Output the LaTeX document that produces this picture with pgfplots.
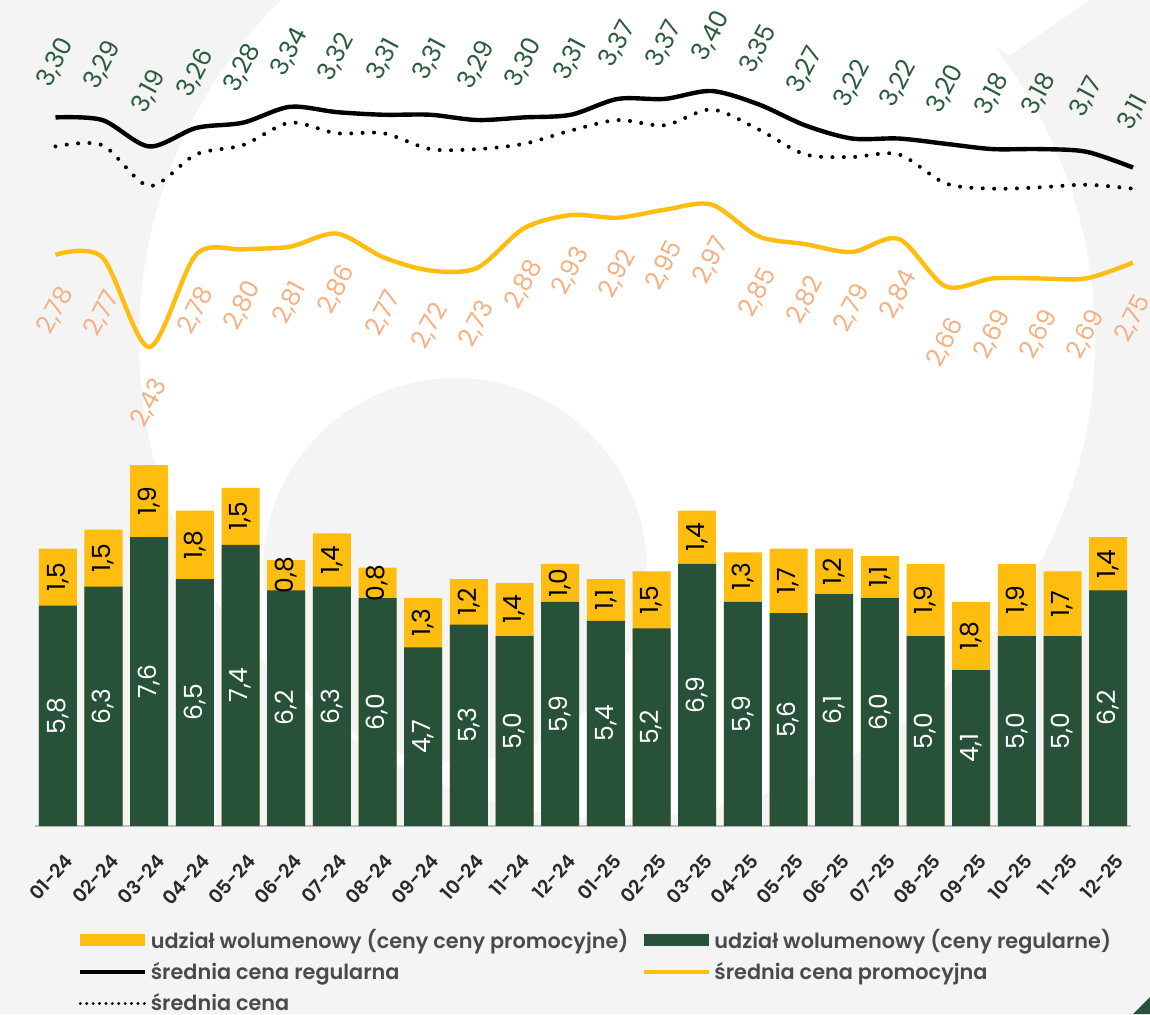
\documentclass[border=0pt]{standalone}
\usepackage{pgfplots}
\pgfplotsset{compat=1.18}
\usepackage{pgfplotstable}
\usepackage{fontspec}
\setmainfont{Poppins}[BoldFont={Poppins SemiBold}]
\definecolor{bggray}{HTML}{F4F4F4}
\definecolor{barg}{HTML}{28513A}
\definecolor{bary}{HTML}{FFBD0F}
\definecolor{lblg}{HTML}{2B5C3C}
\definecolor{lblo}{HTML}{F4B183}
\definecolor{txt}{HTML}{2A2A2A}
\pgfkeys{/pgf/number format/assume math mode=true}
\pgfplotstableread{
x reg promo preg ppromo pavg
0 5.8 1.5 3.30 2.78 3.19
1 6.3 1.5 3.29 2.77 3.195
2 7.6 1.9 3.19 2.43 3.04
3 6.5 1.8 3.26 2.78 3.16
4 7.4 1.5 3.28 2.80 3.195
5 6.2 0.8 3.34 2.81 3.28
6 6.3 1.4 3.32 2.86 3.24
7 6.0 0.8 3.31 2.77 3.24
8 4.7 1.3 3.31 2.72 3.18
9 5.3 1.2 3.29 2.73 3.18
10 5.0 1.4 3.30 2.88 3.20
11 5.9 1.0 3.31 2.93 3.25
12 5.4 1.1 3.37 2.92 3.29
13 5.2 1.5 3.37 2.95 3.27
14 6.9 1.4 3.40 2.97 3.33
15 5.9 1.3 3.35 2.85 3.255
16 5.6 1.7 3.27 2.82 3.16
17 6.1 1.2 3.22 2.79 3.15
18 6.0 1.1 3.22 2.84 3.16
19 5.0 1.9 3.20 2.66 3.05
20 4.1 1.8 3.18 2.69 3.03
21 5.0 1.9 3.18 2.69 3.035
22 5.0 1.7 3.17 2.69 3.045
23 6.2 1.4 3.11 2.75 3.03
}\data
\pgfplotsset{
  legpatch/.style={legend image code/.code={\fill[##1] (0pt,-3pt) rectangle (32.5pt,3pt);}},
  legline/.style={legend image code/.code={\draw[##1] (0pt,0pt) -- (32.5pt,0pt);}},
}
\begin{document}
\begin{tikzpicture}
\path[use as bounding box] (0,0) rectangle (575pt,507pt);
\begin{scope}
\clip (0,0) rectangle (575pt,507pt);
\fill[bggray] (0,0) rectangle (575pt,507pt);
\fill[white, even odd rule] (308.5pt,337pt) circle[radius=239pt] (227.5pt,222pt) circle[radius=96pt];
\fill[white] (505pt,479.5pt) -- (545pt,507pt) -- (450pt,507pt) -- cycle;
\fill[barg] (566.5pt,0pt) -- (575pt,0pt) -- (575pt,8.5pt) -- cycle;
\end{scope}

\begin{axis}[
  at={(17.5pt,94pt)}, anchor=south west, scale only axis,
  width=548pt, height=190pt,
  xmin=-0.5, xmax=23.5, ymin=0, ymax=10,
  axis y line=none, axis x line*=bottom,
  x axis line style={draw=black!25, line width=1pt, -},
  xtick={0,...,23},
  xticklabels={01-24,02-24,03-24,04-24,05-24,06-24,07-24,08-24,09-24,10-24,11-24,12-24,01-25,02-25,03-25,04-25,05-25,06-25,07-25,08-25,09-25,10-25,11-25,12-25},
  major tick length=0pt, xtick style={draw=none},
  xticklabel style={xshift=3pt, yshift=-13pt, rotate=48, anchor=north east, inner sep=0pt, font=\fontsize{9.5}{11}\selectfont\bfseries, text=txt},
  clip=false,
  legend columns=2,
  legend cell align=left,
  legend style={at={(0.0392,-0.268)}, anchor=north west, draw=none, fill=none,
    inner sep=0pt, font=\fontsize{10.4}{12}\selectfont\bfseries, text=txt!85,
    nodes={inner xsep=1.75pt, inner ysep=0.5pt},
    /tikz/every even column/.append style={column sep=5pt},
    row sep=4.5pt},
]
\addplot[ybar, bar width=19pt, bar shift=0pt, fill=bary, draw=none, forget plot]
  table[x=x, y expr=\thisrow{reg}+\thisrow{promo}] {\data};
\addplot[ybar, bar width=19pt, bar shift=0pt, fill=barg, draw=none, forget plot]
  table[x=x, y=reg] {\data};
\addplot[draw=none, mark=none, forget plot, point meta=explicit,
  nodes near coords={\pgfmathprintnumber[fixed,fixed zerofill,precision=1,use comma]{\pgfplotspointmeta}},
  nodes near coords style={rotate=90, anchor=center, inner sep=0pt, text=white, font=\fontsize{12.5}{14}\selectfont}]
  table[x=x, y expr=\thisrow{reg}/2, meta=reg] {\data};
\addplot[draw=none, mark=none, forget plot, point meta=explicit,
  nodes near coords={\pgfmathprintnumber[fixed,fixed zerofill,precision=1,use comma]{\pgfplotspointmeta}},
  nodes near coords style={rotate=90, anchor=center, inner sep=0pt, text=black, font=\fontsize{12.5}{14}\selectfont}]
  table[x=x, y expr=\thisrow{reg}+\thisrow{promo}/2, meta=promo] {\data};
\addlegendimage{legpatch, fill=bary, draw=none}
\addlegendentry{udział wolumenowy (ceny ceny promocyjne)}
\addlegendimage{legpatch, fill=barg, draw=none}
\addlegendentry{udział wolumenowy (ceny regularne)}
\addlegendimage{legline, draw=black, line width=2pt}
\addlegendentry{średnia cena regularna}
\addlegendimage{legline, draw=bary, line width=2pt}
\addlegendentry{średnia cena promocyjna}
\addlegendimage{legline, draw=black, line width=1.6pt, dash pattern=on 0pt off 3.2pt, line cap=round}
\addlegendentry{średnia cena}
\end{axis}

\begin{axis}[
  at={(27.75pt,329.5pt)}, anchor=south west, scale only axis,
  width=538.75pt, height=132pt,
  xmin=0, xmax=23, ymin=2.4, ymax=3.4,
  hide axis, clip=false,
]
\addplot[black, line width=2pt, dash pattern=on 0pt off 5.7pt, line cap=round, smooth]
  table[x=x, y=pavg] {\data};
\addplot[black, line width=2.2pt, smooth,
  nodes near coords={\pgfmathprintnumber[fixed,fixed zerofill,precision=2,use comma]{\pgfplotspointmeta}},
  nodes near coords style={yshift=27.5pt, rotate=62, anchor=center, inner sep=0pt, text=lblg, font=\fontsize{12.5}{14}\selectfont}]
  table[x=x, y=preg] {\data};
\addplot[bary, line width=2.2pt, smooth,
  nodes near coords={\pgfmathprintnumber[fixed,fixed zerofill,precision=2,use comma]{\pgfplotspointmeta}},
  nodes near coords style={yshift=-28pt, rotate=62, anchor=center, inner sep=0pt, text=lblo, font=\fontsize{12.5}{14}\selectfont}]
  table[x=x, y=ppromo] {\data};
\end{axis}
\end{tikzpicture}
\end{document}
